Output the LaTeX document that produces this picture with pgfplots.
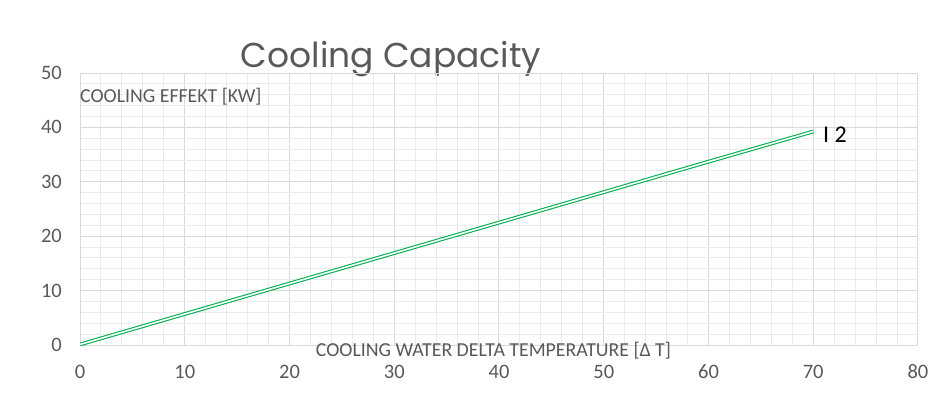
\documentclass[border=0pt]{standalone}
\usepackage{pgfplots}
\pgfplotsset{compat=1.18}
\usepackage{fontspec}
\setmainfont{Carlito}
\newfontfamily\titlefont{Poppins}
\definecolor{txt}{HTML}{595959}
\definecolor{majgrid}{HTML}{D9D9D9}
\definecolor{mingrid}{HTML}{EBEBEB}
\definecolor{xlgreen}{HTML}{00B050}
\begin{document}
\begin{tikzpicture}
\useasboundingbox (0,0) rectangle (946pt,392pt);
\node[anchor=base, text=txt, font=\titlefont\fontsize{34.5}{40}\selectfont] at (391pt,325pt) {Cooling Capacity};
\begin{axis}[
  scale only axis,
  width=838pt, height=272pt,
  at={(80pt,47pt)}, anchor=south west,
  xmin=0, xmax=80, ymin=0, ymax=50,
  xtick={0,10,...,80}, ytick={0,10,...,50},
  minor tick num=4,
  grid=both,
  major grid style={draw=majgrid, line width=1pt},
  minor grid style={draw=mingrid, line width=1pt},
  axis line style={draw=majgrid, line width=1pt},
  major tick length=0pt, minor tick length=0pt,
  tick style={draw=none},
  /pgf/number format/assume math mode=true,
  ticklabel style={font=\fontsize{20.5}{24}\selectfont, text=txt, inner sep=0pt},
  yticklabel style={anchor=east, xshift=-18pt},
  xticklabel style={anchor=base, yshift=-33pt},
  xlabel={COOLING WATER DELTA TEMPERATURE [Δ T]},
  ylabel={COOLING EFFEKT [KW]},
  label style={font=\fontsize{19.8}{23}\selectfont, text=txt, inner sep=0pt},
  xlabel style={at={(axis description cs:0.4934,-0.044)}, anchor=base},
  ylabel style={rotate=-90, at={(axis description cs:0,0.893)}, anchor=base west},
]
\addplot[draw=xlgreen, line width=1.1pt, double=white, double distance=1.6pt]
  coordinates {(0,0.1) (10,5.7) (20,11.3) (30,16.9) (40,22.5) (50,28.1) (60,33.7) (70,39.25)}
  node[anchor=west, text=black, font=\fontsize{24}{28}\selectfont, xshift=6pt, yshift=-3pt] {I 2};
\end{axis}
\end{tikzpicture}
\end{document}
